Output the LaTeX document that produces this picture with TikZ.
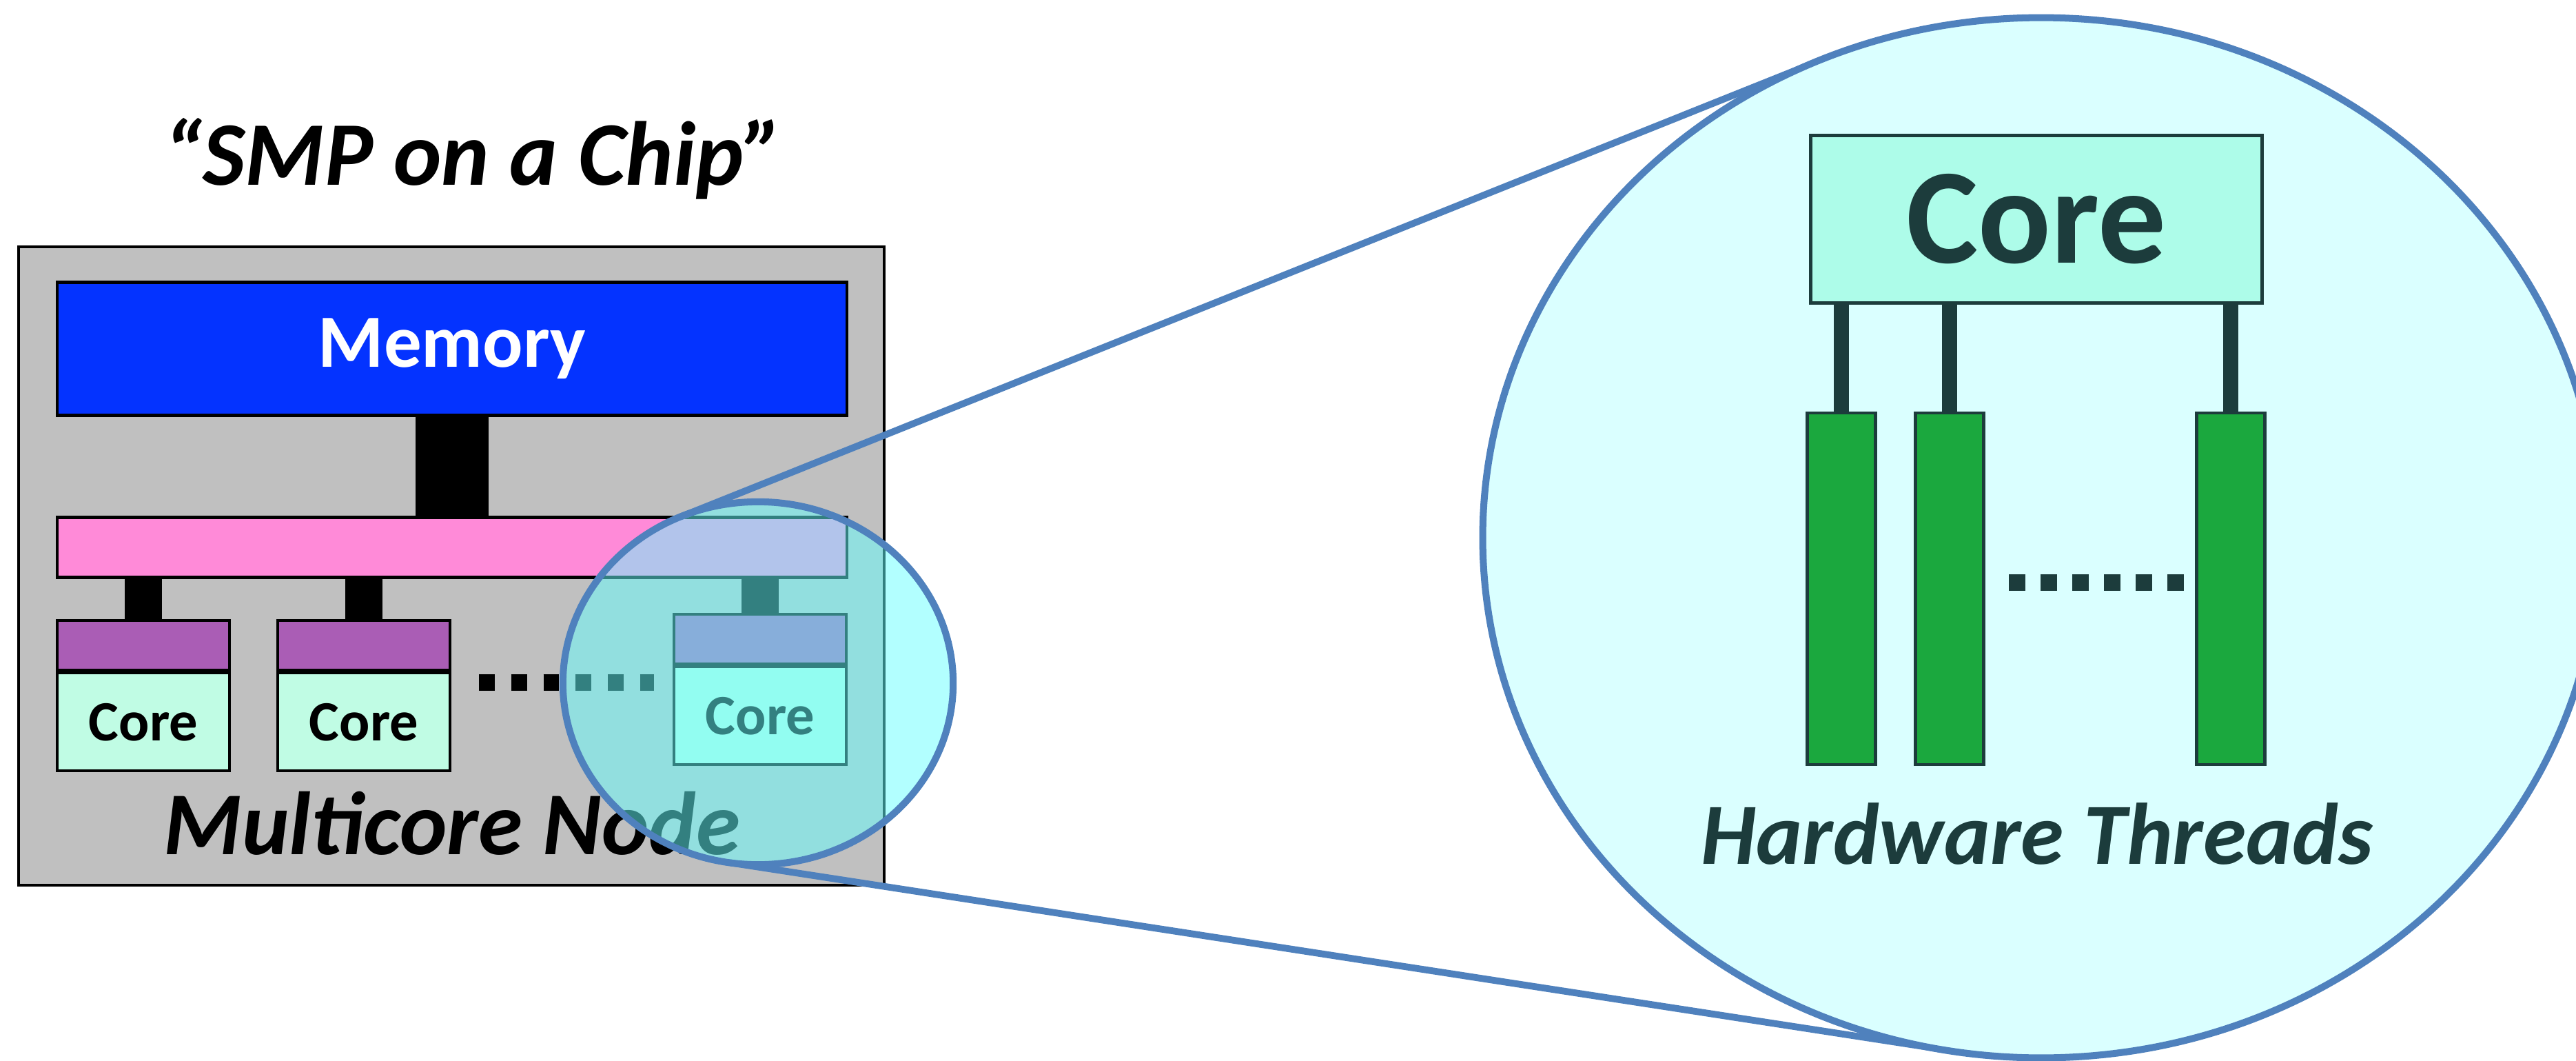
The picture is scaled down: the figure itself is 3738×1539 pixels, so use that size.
\documentclass[tikz,border=0pt]{standalone}
\usepackage{fontspec}
\setmainfont{Carlito}
\usepackage{tikz}
\usetikzlibrary{calc}
\definecolor{nodegray}{HTML}{C0C0C0}
\definecolor{memblue}{HTML}{0433FF}
\definecolor{buspink}{HTML}{FF8AD8}
\definecolor{cachepurple}{HTML}{AA5DB5}
\definecolor{coremint}{HTML}{C0FCE4}
\definecolor{lensblue}{HTML}{4F81BD}
\definecolor{lenscyan}{HTML}{66FFFF}
\definecolor{zoomcyan}{HTML}{DAFFFF}
\definecolor{bigmint}{HTML}{ADFCE9}
\definecolor{darkteal}{HTML}{1C3C3C}
\definecolor{threadgreen}{HTML}{1BA83E}

\begin{document}
\begin{tikzpicture}[x=0.01cm,y=-0.01cm,
	unit/.style={draw=black,line width=1.2pt,inner sep=0pt},
	cachebox/.style={unit,fill=cachepurple,minimum width=2.5cm,minimum height=0.72cm},
	corebox/.style={unit,fill=coremint,minimum width=2.5cm,minimum height=1.42cm,anchor=north,
		font=\bfseries\fontsize{23.5}{23.5}\selectfont},
	thread/.style={draw=darkteal,line width=1.3pt,fill=threadgreen,inner sep=0pt,
		minimum width=0.99cm,minimum height=5.1cm}]
	\useasboundingbox (0,0) rectangle (3738,1539);
	% left: the multicore node
	\node[anchor=base,font=\bfseries\itshape\fontsize{37.5}{40}\selectfont] (title) at (687,268) {“SMP on a Chip”};
	\node[draw=black,line width=1.1pt,fill=nodegray,minimum width=12.56cm,minimum height=9.26cm] (chip) at (655,821) {};
	\node[unit,fill=memblue,text=white,minimum width=11.46cm,minimum height=1.93cm,
		font=\bfseries\fontsize{31}{31}\selectfont] (mem) at (656,506) {Memory};
	\node[unit,fill=buspink,minimum width=11.46cm,minimum height=0.87cm] (bus) at (656,794) {};
	\draw[line width=29.9pt] (mem.south) -- (mem.south |- bus.north);
	\node[cachebox] (cache1) at (208,936) {};
	\node[corebox] (core1) at (cache1.south) {Core};
	\node[cachebox] (cache2) at (528,936) {};
	\node[corebox] (core2) at (cache2.south) {Core};
	\node[cachebox] (cache3) at (1103,927) {};
	\node[corebox] (core3) at (cache3.south) {Core};
	\foreach \c in {cache1,cache2,cache3}
		\draw[line width=15.4pt] (\c.north) -- (\c.north |- bus.south);
	\draw[line width=6.8pt,dash pattern=on 6.5pt off 6.8pt] (695,990) -- (949,990);
	\node[anchor=base,font=\bfseries\itshape\fontsize{37}{40}\selectfont] (mlabel) at (656,1239) {Multicore Node};
	% lens and zoom
	\coordinate (lensc) at (1100,991);
	\coordinate (zoomc) at (2962,780);
	\coordinate (lensT) at ($(lensc)+({283*cos(113.5)},{-263*sin(113.5)})$);
	\coordinate (lensB) at ($(lensc)+({283*cos(261)},{-263*sin(261)})$);
	\coordinate (zoomT) at ($(zoomc)+({810*cos(113.5)},{-754*sin(113.5)})$);
	\coordinate (zoomB) at ($(zoomc)+({810*cos(261)},{-754*sin(261)})$);
	\draw[lensblue,line width=2.8pt] (lensT) -- (zoomT);
	\draw[lensblue,line width=2.8pt] (lensB) -- (zoomB);
	\filldraw[fill=zoomcyan,draw=lensblue,line width=2.85pt] (zoomc) ellipse [x radius=8.1cm,y radius=7.54cm];
	% right: inside one core
	\node[draw=darkteal,line width=1.4pt,fill=bigmint,text=darkteal,minimum width=6.54cm,minimum height=2.42cm,
		font=\bfseries\fontsize{56}{56}\selectfont] (bigcore) at (2955,318) {Core};
	\node[thread] (t1) at (2672,854) {};
	\node[thread] (t2) at (2829,854) {};
	\node[thread] (t3) at (3237,854) {};
	\foreach \t in {t1,t2,t3}
		\draw[darkteal,line width=6.3pt] (\t.north) -- (\t.north |- bigcore.south);
	\draw[darkteal,line width=6.8pt,dash pattern=on 6.8pt off 6.3pt] (2915,845) -- (3171,845);
	\node[anchor=base,text=darkteal,font=\bfseries\itshape\fontsize{36}{40}\selectfont] (tlabel) at (2956,1253) {Hardware Threads};
	\filldraw[fill=lenscyan,fill opacity=0.5,draw=lensblue,line width=2.85pt] (lensc) ellipse [x radius=2.83cm,y radius=2.63cm];
\end{tikzpicture}
\end{document}
